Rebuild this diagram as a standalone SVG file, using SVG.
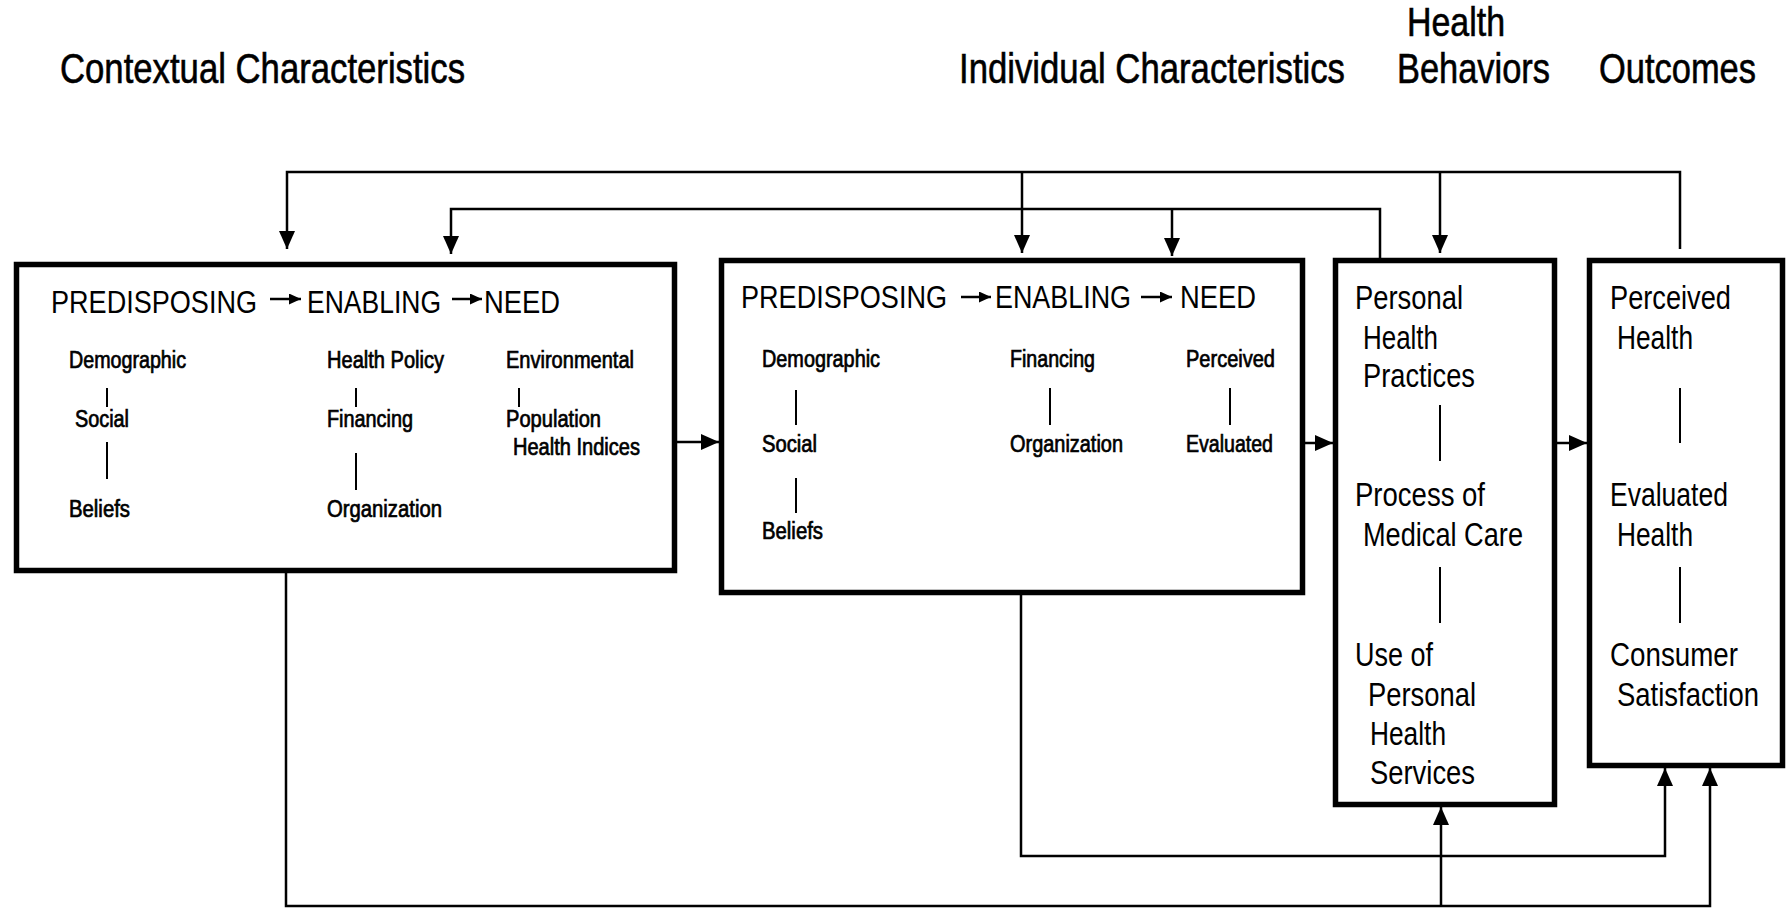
<svg xmlns="http://www.w3.org/2000/svg" width="1789" height="908" viewBox="0 0 1789 908">
  <style>
    text { font-family: "Liberation Sans", Arial, sans-serif; fill: #000; }
    .head { font-size: 42px; stroke: #000; stroke-width: 0.6px; }
    .title { font-size: 32px; }
    .lbl { font-size: 23px; stroke: #000; stroke-width: 0.7px; }
    .big { font-size: 33px; }
    .box { fill: #fff; stroke: #000; stroke-width: 5.5; }
    .tie { stroke: #000; stroke-width: 2; fill: none; }
    .conn { stroke: #000; stroke-width: 2.5; fill: none; }
    .step { stroke: #000; stroke-width: 2.5; fill: none; }
  </style>
  <defs>
    <marker id="arrow" markerUnits="userSpaceOnUse" markerWidth="18" markerHeight="16" refX="18" refY="8" orient="auto">
      <path d="M0,0 L18,8 L0,16 z" fill="#000"/>
    </marker>
    <marker id="arrowSmall" markerUnits="userSpaceOnUse" markerWidth="12" markerHeight="11" refX="12" refY="5.5" orient="auto">
      <path d="M0,0 L12,5.5 L0,11 z" fill="#000"/>
    </marker>
  </defs>

  <rect width="1789" height="908" fill="#fff"/>

  <!-- column headings -->
  <g id="headings">
    <text class="head" x="60" y="83" textLength="405" lengthAdjust="spacingAndGlyphs">Contextual Characteristics</text>
    <!-- narrowed so the heading keeps clear of the next column -->
    <text class="head" transform="translate(959,83) scale(0.8265,1)" x="0" y="0" textLength="467" lengthAdjust="spacingAndGlyphs">Individual Characteristics</text>
    <text class="head" x="1407" y="36" style="font-size:41px" textLength="98" lengthAdjust="spacingAndGlyphs">Health</text>
    <text class="head" x="1397" y="83" textLength="153" lengthAdjust="spacingAndGlyphs">Behaviors</text>
    <text class="head" x="1599" y="83" textLength="157" lengthAdjust="spacingAndGlyphs">Outcomes</text>
  </g>

  <!-- connectors -->
  <g id="connectors">
    <!-- outcomes feedback to contextual and individual characteristics and behaviors -->
    <path class="conn" d="M1680,249 V172 H287 V249" marker-end="url(#arrow)"/>
    <path class="conn" d="M1022,172 V253" marker-end="url(#arrow)"/>
    <path class="conn" d="M1440,172 V253" marker-end="url(#arrow)"/>
    <!-- behaviors feedback -->
    <path class="conn" d="M1380,258 V209 H451 V254" marker-end="url(#arrow)"/>
    <path class="conn" d="M1172,209 V256" marker-end="url(#arrow)"/>
    <!-- left-to-right flow -->
    <path class="conn" d="M677,442 H719" marker-end="url(#arrow)"/>
    <path class="conn" d="M1305,443 H1333" marker-end="url(#arrow)"/>
    <path class="conn" d="M1557,443 H1587" marker-end="url(#arrow)"/>
    <!-- contextual characteristics to behaviors and outcomes -->
    <path class="conn" d="M286,573 V906 H1710 V768" marker-end="url(#arrow)"/>
    <path class="conn" d="M1441,906 V807" marker-end="url(#arrow)"/>
    <!-- individual characteristics to outcomes -->
    <path class="conn" d="M1021,595 V856 H1665 V768" marker-end="url(#arrow)"/>
  </g>

  <!-- contextual characteristics -->
  <g id="contextual">
    <rect class="box" x="16.5" y="264.5" width="658" height="306"/>
    <text class="title" x="51" y="313" textLength="206" lengthAdjust="spacingAndGlyphs">PREDISPOSING</text>
    <path class="step" d="M270,299 H301" marker-end="url(#arrowSmall)"/>
    <text class="title" x="307" y="313" textLength="134" lengthAdjust="spacingAndGlyphs">ENABLING</text>
    <path class="step" d="M452,299 H482" marker-end="url(#arrowSmall)"/>
    <text class="title" x="484" y="313" textLength="76" lengthAdjust="spacingAndGlyphs">NEED</text>

    <text class="lbl" x="69" y="368" textLength="117" lengthAdjust="spacingAndGlyphs">Demographic</text>
    <line class="tie" x1="107" y1="388" x2="107" y2="407"/>
    <text class="lbl" x="75" y="427" textLength="54" lengthAdjust="spacingAndGlyphs">Social</text>
    <line class="tie" x1="107" y1="442" x2="107" y2="479"/>
    <text class="lbl" x="69" y="517" textLength="61" lengthAdjust="spacingAndGlyphs">Beliefs</text>

    <text class="lbl" x="327" y="368" textLength="117" lengthAdjust="spacingAndGlyphs">Health Policy</text>
    <line class="tie" x1="356" y1="388" x2="356" y2="407"/>
    <text class="lbl" x="327" y="427" textLength="86" lengthAdjust="spacingAndGlyphs">Financing</text>
    <line class="tie" x1="356" y1="453" x2="356" y2="490"/>
    <text class="lbl" x="327" y="517" textLength="115" lengthAdjust="spacingAndGlyphs">Organization</text>

    <text class="lbl" x="506" y="368" textLength="128" lengthAdjust="spacingAndGlyphs">Environmental</text>
    <line class="tie" x1="519" y1="388" x2="519" y2="407"/>
    <text class="lbl" x="506" y="427" textLength="95" lengthAdjust="spacingAndGlyphs">Population</text>
    <text class="lbl" x="513" y="455" textLength="127" lengthAdjust="spacingAndGlyphs">Health Indices</text>
  </g>

  <!-- individual characteristics -->
  <g id="individual">
    <rect class="box" x="721.5" y="260.5" width="581" height="332"/>
    <text class="title" x="741" y="308" textLength="206" lengthAdjust="spacingAndGlyphs">PREDISPOSING</text>
    <path class="step" d="M961,297 H991" marker-end="url(#arrowSmall)"/>
    <text class="title" x="995" y="308" textLength="136" lengthAdjust="spacingAndGlyphs">ENABLING</text>
    <path class="step" d="M1141,297 H1172" marker-end="url(#arrowSmall)"/>
    <text class="title" x="1180" y="308" textLength="76" lengthAdjust="spacingAndGlyphs">NEED</text>

    <text class="lbl" x="762" y="367" textLength="118" lengthAdjust="spacingAndGlyphs">Demographic</text>
    <line class="tie" x1="796" y1="390" x2="796" y2="425"/>
    <text class="lbl" x="762" y="452" textLength="55" lengthAdjust="spacingAndGlyphs">Social</text>
    <line class="tie" x1="796" y1="478" x2="796" y2="513"/>
    <text class="lbl" x="762" y="539" textLength="61" lengthAdjust="spacingAndGlyphs">Beliefs</text>

    <text class="lbl" x="1010" y="367" textLength="85" lengthAdjust="spacingAndGlyphs">Financing</text>
    <line class="tie" x1="1050" y1="388" x2="1050" y2="425"/>
    <text class="lbl" x="1010" y="452" textLength="113" lengthAdjust="spacingAndGlyphs">Organization</text>

    <text class="lbl" x="1186" y="367" textLength="89" lengthAdjust="spacingAndGlyphs">Perceived</text>
    <line class="tie" x1="1230" y1="388" x2="1230" y2="425"/>
    <text class="lbl" x="1186" y="452" textLength="87" lengthAdjust="spacingAndGlyphs">Evaluated</text>
  </g>

  <!-- health behaviors -->
  <g id="behaviors">
    <rect class="box" x="1335.5" y="260.5" width="219" height="544"/>
    <text class="big" x="1355" y="309" textLength="108" lengthAdjust="spacingAndGlyphs">Personal</text>
    <text class="big" x="1363" y="349" textLength="75" lengthAdjust="spacingAndGlyphs">Health</text>
    <text class="big" x="1363" y="387" textLength="112" lengthAdjust="spacingAndGlyphs">Practices</text>
    <line class="tie" x1="1440" y1="405" x2="1440" y2="461"/>
    <text class="big" x="1355" y="506" textLength="130" lengthAdjust="spacingAndGlyphs">Process of</text>
    <text class="big" x="1363" y="546" textLength="160" lengthAdjust="spacingAndGlyphs">Medical Care</text>
    <line class="tie" x1="1440" y1="567" x2="1440" y2="623"/>
    <text class="big" x="1355" y="666" textLength="78" lengthAdjust="spacingAndGlyphs">Use of</text>
    <text class="big" x="1368" y="706" textLength="108" lengthAdjust="spacingAndGlyphs">Personal</text>
    <text class="big" x="1370" y="745" textLength="76" lengthAdjust="spacingAndGlyphs">Health</text>
    <text class="big" x="1370" y="784" textLength="105" lengthAdjust="spacingAndGlyphs">Services</text>
  </g>

  <!-- outcomes -->
  <g id="outcomes">
    <rect class="box" x="1589.5" y="260.5" width="193" height="505"/>
    <text class="big" x="1610" y="309" textLength="121" lengthAdjust="spacingAndGlyphs">Perceived</text>
    <text class="big" x="1617" y="349" textLength="76" lengthAdjust="spacingAndGlyphs">Health</text>
    <line class="tie" x1="1680" y1="388" x2="1680" y2="443"/>
    <text class="big" x="1610" y="506" textLength="118" lengthAdjust="spacingAndGlyphs">Evaluated</text>
    <text class="big" x="1617" y="546" textLength="76" lengthAdjust="spacingAndGlyphs">Health</text>
    <line class="tie" x1="1680" y1="567" x2="1680" y2="623"/>
    <text class="big" x="1610" y="666" textLength="128" lengthAdjust="spacingAndGlyphs">Consumer</text>
    <text class="big" x="1617" y="706" textLength="142" lengthAdjust="spacingAndGlyphs">Satisfaction</text>
  </g>
</svg>
